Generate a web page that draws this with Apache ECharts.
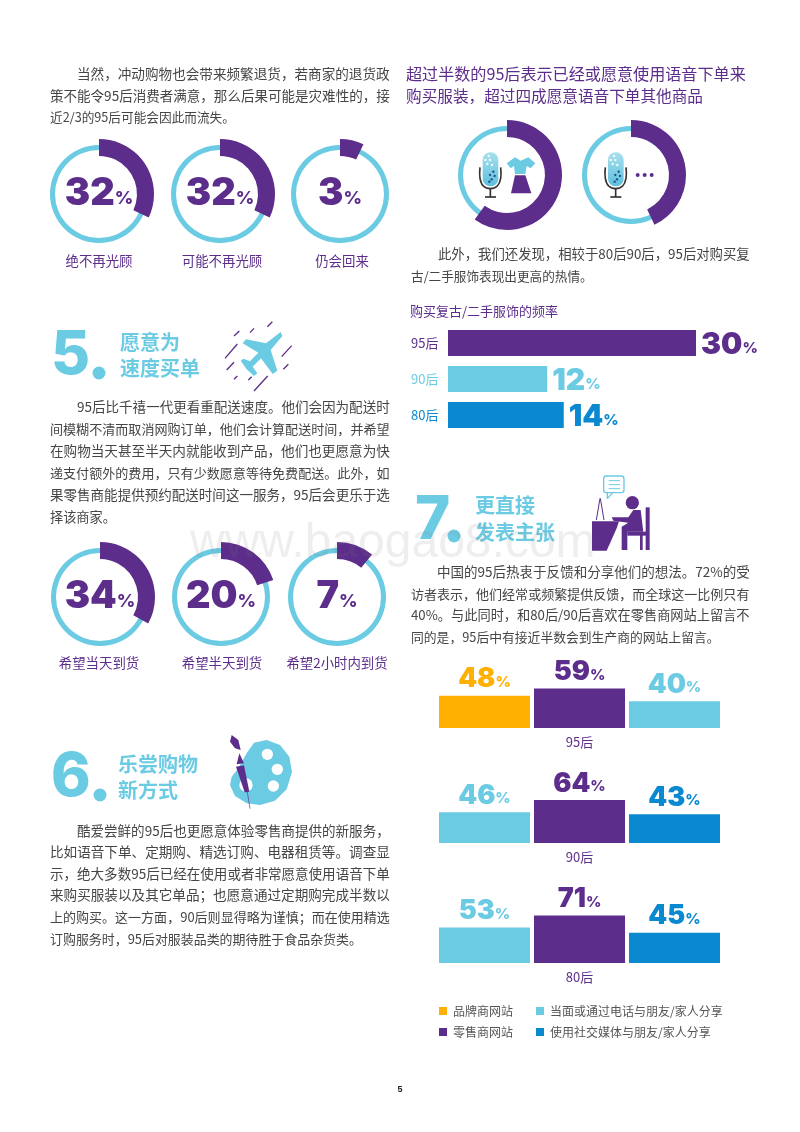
<!DOCTYPE html>
<html>
<head>
<meta charset="utf-8">
<style>
  html, body { margin: 0; padding: 0; background: #fff; }
  #main { width: 800px; height: 1132px; }
</style>
<script src="https://cdn.jsdelivr.net/npm/echarts@6/dist/echarts.min.js"></script>
</head>
<body>
<div id="main"></div>
<script>
// --- data ---
var returnLabels = ['绝不再光顾', '可能不再光顾', '仍会回来'];
var returnValues = [32, 32, 3];
var returnArcs = [32, 32, 7];
var speedLabels = ['希望当天到货', '希望半天到货', '希望2小时内到货'];
var speedValues = [34, 20, 7];
var speedArcs = [33, 20, 11];
var voiceArcs = [60, 43];

var secondhandGroups = ['95后', '90后', '80后'];
var secondhandValues = [30, 12, 14];

var channelNames = ['品牌商网站', '零售商网站', '当面或通过电话与朋友/家人分享', '使用社交媒体与朋友/家人分享'];
var feedbackGroups = ['95后', '90后', '80后'];
var slots95 = [0, 1, 2];
var slots90 = [2, 1, 3];
var slots80 = [2, 1, 3];
var values95 = [48, 59, 40];
var values90 = [46, 64, 43];
var values80 = [53, 71, 45];

var paraReturn = [
  '当然，冲动购物也会带来频繁退货，若商家的退货政',
  '策不能令95后消费者满意，那么后果可能是灾难性的，接',
  '近2/3的95后可能会因此而流失。'
];
var paraSpeed = [
  '95后比千禧一代更看重配送速度。他们会因为配送时',
  '间模糊不清而取消网购订单，他们会计算配送时间，并希望',
  '在购物当天甚至半天内就能收到产品，他们也更愿意为快',
  '递支付额外的费用，只有少数愿意等待免费配送。此外，如',
  '果零售商能提供预约配送时间这一服务，95后会更乐于选',
  '择该商家。'
];
var paraNew = [
  '酷爱尝鲜的95后也更愿意体验零售商提供的新服务，',
  '比如语音下单、定期购、精选订购、电器租赁等。调查显',
  '示，绝大多数95后已经在使用或者非常愿意使用语音下单',
  '来购买服装以及其它单品；也愿意通过定期购完成半数以',
  '上的购买。这一方面，90后则显得略为谨慎；而在使用精选',
  '订购服务时，95后对服装品类的期待胜于食品杂货类。'
];
var paraVintage = [
  '此外，我们还发现，相较于80后90后，95后对购买复',
  '古/二手服饰表现出更高的热情。'
];
var paraFeedback = [
  '中国的95后热衷于反馈和分享他们的想法。72%的受',
  '访者表示，他们经常或频繁提供反馈，而全球这一比例只有',
  '40%。与此同时，和80后/90后喜欢在零售商网站上留言不',
  '同的是，95后中有接近半数会到生产商的网站上留言。'
];
var voiceTitle = ['超过半数的95后表示已经或愿意使用语音下单来', '购买服装，超过四成愿意语音下单其他商品'];

// --- colours ---
var purple = '#5c2d8a';
var cyan = '#6bcbe3';
var blue = '#0a88d0';
var orange = '#ffb000';
var bodyInk = '#454545';
var channelColors = [orange, purple, cyan, blue];
var groupColors = [purple, cyan, blue];
var cjk = '"Noto Sans CJK SC", sans-serif';
var bigNum = 'Inter, "DejaVu Sans", sans-serif';

function pctLabel(color, big, small) {
  return {
    color: color,
    formatter: function(p) { return '{n|' + (p.data.shown !== undefined ? p.data.shown : p.value) + '}{p|%}'; },
    rich: {
      n: { fontFamily: bigNum, fontWeight: 900, fontSize: big, color: color },
      p: { fontFamily: bigNum, fontWeight: 800, fontSize: small, color: color, padding: [big * 0.24, 0, 0, 0] }
    }
  };
}

// --- donuts ---
var series = [];
function addDonut(cx, cy, arc, shown) {
  series.push({
    type: 'pie', silent: true, animation: false, z: 1,
    center: [cx, cy], radius: [44, 49], startAngle: 90,
    label: { show: false }, labelLine: { show: false },
    data: [{ value: 100, itemStyle: { color: cyan } }]
  });
  var first = { value: arc, itemStyle: { color: purple } };
  if (shown !== undefined) {
    first.shown = shown;
    var lab = pctLabel(purple, 38, 18);
    lab.show = true;
    lab.position = 'center';
    first.label = lab;
  }
  series.push({
    type: 'pie', silent: true, animation: false, z: 2,
    center: [cx, cy], radius: [38, 55], startAngle: 90,
    label: { show: false }, labelLine: { show: false },
    data: [first, { value: 100 - arc, itemStyle: { color: 'transparent' }, label: { show: false } }]
  });
}
var returnCx = [99, 220, 340];
var speedCx = [100, 221, 337];
var voiceCx = [507, 631];
returnArcs.forEach(function(a, i) { addDonut(returnCx[i], 194, a, returnValues[i]); });
speedArcs.forEach(function(a, i) { addDonut(speedCx[i], 597, a, speedValues[i]); });
voiceArcs.forEach(function(a, i) { addDonut(voiceCx[i], 175, a); });

// --- bars ---
var grids = [{ left: 448, top: 325, width: 248, height: 108 }];
var xAxes = [{ type: 'value', gridIndex: 0, min: 0, max: 30, show: false }];
var yAxes = [{
  type: 'category', gridIndex: 0, inverse: true, data: secondhandGroups,
  axisLine: { show: false }, axisTick: { show: false },
  axisLabel: {
    align: 'left', margin: 37, fontSize: 13, fontFamily: cjk,
    color: function(v, i) { return groupColors[i]; }
  }
}];
series.push({
  type: 'bar', xAxisIndex: 0, yAxisIndex: 0, barWidth: 26, silent: true, animation: false,
  data: secondhandValues.map(function(v, i) {
    var lab = pctLabel(groupColors[i], 30, 15);
    lab.show = true;
    lab.position = 'right';
    lab.distance = 5;
    lab.offset = [0, 2];
    return { value: v, itemStyle: { color: groupColors[i] }, label: lab };
  })
});

var feedbackSlots = [slots95, slots90, slots80];
var feedbackValues = [values95, values90, values80];
var feedbackBottoms = [728, 843, 963];
feedbackGroups.forEach(function(name, g) {
  var idx = g + 1;
  grids.push({ left: 437, width: 285, top: feedbackBottoms[g] - 67, height: 67 });
  xAxes.push({
    type: 'category', gridIndex: idx, data: ['a', 'b', 'c'],
    name: name, nameLocation: 'middle', nameGap: 8,
    nameTextStyle: { color: purple, fontSize: 13, fontFamily: cjk },
    axisLabel: { show: false }, axisLine: { show: false }, axisTick: { show: false }
  });
  yAxes.push({ type: 'value', gridIndex: idx, min: 0, max: 100, show: false });
  feedbackSlots[g].forEach(function(ch, j) {
    var data = [null, null, null];
    data[j] = feedbackValues[g][j];
    var lab = pctLabel(channelColors[ch], 27, 15);
    lab.show = true;
    lab.position = 'top';
    lab.distance = 3;
    series.push({
      type: 'bar', name: channelNames[ch], xAxisIndex: idx, yAxisIndex: idx,
      stack: 'g' + g, barWidth: 91, silent: true, animation: false,
      itemStyle: { color: channelColors[ch] }, label: lab, data: data
    });
  });
});

// --- text and decoration ---
function text(str, x, y, size, fill, weight, align, family) {
  return {
    type: 'text', x: x, y: y, z: 5, silent: true,
    style: {
      text: str, fill: fill, fontSize: size, fontWeight: weight || 'normal',
      fontFamily: family || cjk, align: align || 'left', verticalAlign: 'middle'
    }
  };
}

// the source justifies its lines, so each full line gets the size that reaches the column edge
var measure = document.createElement('canvas').getContext('2d');
function fitSize(str, width) {
  measure.font = '100px ' + cjk;
  return 100 * width / measure.measureText(str).width;
}
function para(lines, x, firstX, ys, right, lastRight) {
  return lines.map(function(l, i) {
    var left = i === 0 ? firstX : x;
    var edge = i === lines.length - 1 ? lastRight : right;
    return text(l, left, ys[i], fitSize(l, edge - left), bodyInk);
  });
}

var els = [];
els = els.concat(para(paraReturn, 50, 77, [74, 96, 117], 390, 235));
els = els.concat(para(paraSpeed, 50, 77, [407, 429, 451, 473, 495, 517], 390, 116));
els = els.concat(para(paraNew, 50, 77, [831, 852, 874, 895, 917, 939], 390, 362));
els = els.concat(para(paraVintage, 411, 438, [254, 276], 750, 593));
els = els.concat(para(paraFeedback, 411, 437, [572, 594, 615, 637], 750, 720));
els.push(text(voiceTitle[0], 406, 74, fitSize(voiceTitle[0], 340), purple));
els.push(text(voiceTitle[1], 406, 96, fitSize(voiceTitle[1], 297), purple));
els.push(text('购买复古/二手服饰的频率', 410, 311, 13, purple));

returnLabels.forEach(function(l, i) { els.push(text(l, [99, 222, 342][i], 261, 13.4, purple, null, 'center')); });
speedLabels.forEach(function(l, i) { els.push(text(l, [99, 222, 337][i], 663, 13.4, purple, null, 'center')); });

// section headings
[['5', 51, 356, 99, 373, '愿意为', '速度买单', 120, 342, 368],
 ['6', 51, 778, 100, 795, '乐尝购物', '新方式', 118, 764, 790],
 ['7', 415, 521, 454, 536, '更直接', '发表主张', 475, 505, 532]].forEach(function(h) {
  els.push(text(h[0], h[1], h[2], 60, cyan, 800, 'left', bigNum));
  els.push({ type: 'circle', z: 5, silent: true, shape: { cx: h[3], cy: h[4], r: 6.5 }, style: { fill: cyan } });
  els.push(text(h[5], h[7], h[8], 20, cyan, 'bold'));
  els.push(text(h[6], h[7], h[9], 20, cyan, 'bold'));
});

els.push(text('5', 400, 1090, 9, '#222', 'bold', 'center', '"Liberation Sans", sans-serif'));

// icons are traced in 3x crop coordinates, hence the 1/3 scale on the groups
function icon(x, y, children) {
  return { type: 'group', x: x, y: y, scaleX: 1 / 3, scaleY: 1 / 3, z: 4, silent: true, children: children };
}
function poly(pts, fill) { return { type: 'polygon', shape: { points: pts }, style: { fill: fill } }; }
function line(a, b, c, d, color, w) {
  return { type: 'line', shape: { x1: a, y1: b, x2: c, y2: d }, style: { stroke: color, lineWidth: w } };
}
function dot(x, y, r, fill) { return { type: 'circle', shape: { cx: x, cy: y, r: r }, style: { fill: fill } }; }
function curve(pts, color, w) {
  return { type: 'polyline', shape: { points: pts, smooth: 0.4 }, style: { stroke: color, lineWidth: w, fill: null } };
}

// plane
var plane = [poly([[752, 846], [757, 858], [722, 900], [742, 962], [728, 972], [693, 925], [668, 950], [682, 970], [672, 978], [650, 958], [632, 932], [640, 926], [660, 934], [685, 908], [638, 880], [648, 868], [708, 880]], cyan)];
[[612, 858, 628, 843], [660, 848, 672, 835], [712, 830, 727, 815], [585, 925, 622, 882], [590, 960, 612, 937],
 [755, 920, 785, 887], [760, 958, 775, 943], [612, 988, 622, 978], [655, 990, 665, 980], [672, 1023, 713, 978]].forEach(function(s) {
  plane.push(line(s[0], s[1], s[2], s[3], purple, 4));
});
els.push(icon(30, 50, plane));

// palette and brush
els.push(icon(30, 520, [
  poly([[650, 700], [672, 668], [710, 660], [750, 675], [778, 710], [786, 755], [770, 808], [735, 842], [690, 855], [650, 850], [615, 828], [600, 795], [605, 770], [625, 745]], cyan),
  dot(712, 703, 17, '#fff'), dot(742, 748, 17, '#fff'), dot(730, 798, 17, '#fff'), dot(648, 795, 20, '#fff'),
  poly([[605, 645], [625, 660], [632, 690], [615, 685], [600, 665]], purple),
  poly([[628, 700], [642, 730], [620, 733]], purple),
  poly([[618, 740], [642, 736], [658, 815], [644, 817]], purple),
  line(652, 816, 660, 866, purple, 2)
]));

// person at desk
els.push(icon(420, 480, [
  poly([[516, 124], [597, 124], [590, 145], [560, 212], [516, 212]], purple),
  poly([[538, 55], [545, 58], [553, 122], [527, 120]], '#fff'),
  line(540, 55, 529, 120, purple, 3), line(541, 55, 552, 120, purple, 3),
  dot(637, 68, 20, purple),
  poly([[575, 112], [625, 112], [640, 90], [662, 90], [670, 155], [622, 155], [622, 210], [605, 210], [605, 140], [625, 128], [580, 122]], purple),
  poly([[622, 155], [682, 155], [682, 167], [622, 167]], purple),
  poly([[677, 82], [689, 82], [689, 210], [677, 210]], purple),
  poly([[660, 165], [668, 165], [668, 210], [660, 210]], purple),
  { type: 'rect', shape: { x: 551, y: -12, width: 61, height: 50, r: 8 }, style: { fill: '#fff', stroke: cyan, lineWidth: 4 } },
  line(562, 38, 562, 56, cyan, 4), line(562, 56, 578, 38, cyan, 4),
  line(566, 2, 600, 2, cyan, 3), line(566, 14, 600, 14, cyan, 3), line(566, 26, 600, 26, cyan, 3)
]));

// microphones
function mic(dx) {
  return [
    { type: 'rect', shape: { x: 248 + dx, y: 307, width: 47, height: 102, r: 23 }, style: {
      fill: new echarts.graphic.LinearGradient(0, 0, 0, 1, [{ offset: 0, color: '#a8e0ee' }, { offset: 1, color: '#5dbfdc' }])
    } },
    dot(266 + dx, 318, 3.5, '#fff'), dot(256 + dx, 330, 3.5, '#fff'), dot(270 + dx, 330, 3.5, '#fff'),
    dot(262 + dx, 342, 3.5, '#fff'), dot(276 + dx, 345, 3.5, '#fff'),
    dot(280 + dx, 365, 3.5, '#1f4e8c'), dot(270 + dx, 375, 3.5, '#1f4e8c'), dot(284 + dx, 378, 3.5, '#1f4e8c'),
    dot(275 + dx, 388, 3.5, '#1f4e8c'), dot(268 + dx, 395, 3.5, '#1f4e8c'),
    curve([[240 + dx, 352], [240 + dx, 385], [250 + dx, 408], [271 + dx, 416], [292 + dx, 408], [302 + dx, 385], [302 + dx, 352]], '#333', 5),
    line(271 + dx, 416, 271 + dx, 441, '#333', 5),
    line(255 + dx, 441, 288 + dx, 441, '#333', 5)
  ];
}
var voiceIcons = mic(0).concat(mic(376));
voiceIcons.push(
  poly([[320, 340], [345, 322], [362, 332], [385, 322], [406, 340], [392, 355], [380, 348], [376, 372], [345, 372], [342, 348], [332, 355]], cyan),
  poly([[345, 376], [376, 376], [394, 430], [333, 430]], purple),
  dot(713, 375, 6, purple), dot(734, 375, 6, purple), dot(755, 375, 6, purple)
);
els.push(icon(400, 50, voiceIcons));

// watermark sits on top of everything
els.push({
  type: 'text', x: 190, y: 568, z: 100, silent: true,
  style: {
    text: 'www.baogao8.com', fill: 'rgba(120,120,120,0.13)', fontSize: 48,
    fontFamily: '"Liberation Sans", sans-serif', align: 'left', verticalAlign: 'bottom'
  }
});

var chart = echarts.init(document.getElementById('main'), null, { renderer: 'canvas' });
chart.setOption({
  animation: false,
  backgroundColor: '#fff',
  textStyle: { fontFamily: cjk },
  tooltip: { show: false },
  legend: [
    { orient: 'vertical', left: 434, top: 1000, itemWidth: 8, itemHeight: 8, itemGap: 9, icon: 'rect', selectedMode: false,
      data: [channelNames[0], channelNames[1]], textStyle: { color: '#555', fontSize: 12, padding: [0, 0, 0, 1] } },
    { orient: 'vertical', left: 531, top: 1000, itemWidth: 8, itemHeight: 8, itemGap: 9, icon: 'rect', selectedMode: false,
      data: [channelNames[2], channelNames[3]], textStyle: { color: '#555', fontSize: 12, padding: [0, 0, 0, 1] } }
  ],
  grid: grids,
  xAxis: xAxes,
  yAxis: yAxes,
  series: series,
  graphic: { elements: els }
});
window.addEventListener('resize', function() { chart.resize(); });
</script>
</body>
</html>
